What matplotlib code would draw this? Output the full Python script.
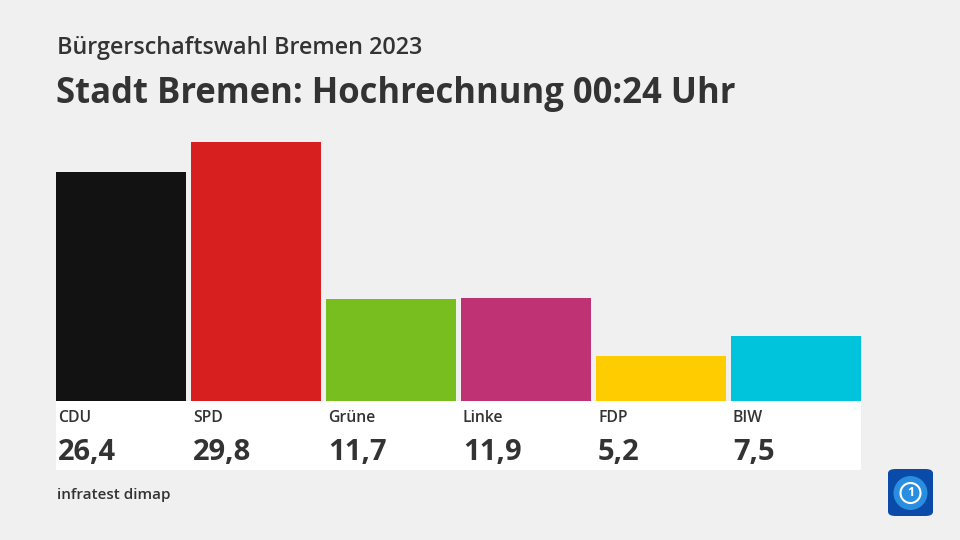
import matplotlib
matplotlib.use("Agg")
import matplotlib.pyplot as plt
import matplotlib.transforms as mtransforms
from matplotlib.patches import Rectangle, FancyBboxPatch, Ellipse

parties = ["CDU", "SPD", "Grüne", "Linke", "FDP", "BIW"]
values = [26.4, 29.8, 11.7, 11.9, 5.2, 7.5]
labels = ["26,4", "29,8", "11,7", "11,9", "5,2", "7,5"]
colors = ["#121212", "#d71f1f", "#78be1e", "#bf3273", "#ffcc00", "#00c3dc"]

plt.rcParams["font.family"] = ["Open Sans", "DejaVu Sans"]
bg = "#f0f0f0"
txt = "#333333"

W, H = 960, 540
fig = plt.figure(figsize=(9.6, 5.4), dpi=100, facecolor=bg)

# bar area in pixel coordinates
left, right, base, top = 56, 861, 401, 142
ax = fig.add_axes([left / W, (H - base) / H, (right - left) / W, (base - top) / H])
ax.set_facecolor("none")
half = 65 / 135
ax.bar(range(len(values)), values, width=130 / 135, color=colors)
ax.set_xlim(-half, len(values) - 1 + half)
ax.set_ylim(0, max(values))
ax.axis("off")

# white label panel
fig.patches.append(Rectangle((left / W, (H - 470) / H), (right - left) / W, 69 / H,
                             transform=fig.transFigure, facecolor="white",
                             edgecolor="none", zorder=-1))

trans = mtransforms.blended_transform_factory(ax.transData, fig.transFigure)
for i, (p, lab) in enumerate(zip(parties, labels)):
    x0 = i - half + 2 / 135
    ax.text(x0, (H - 418) / H, p, transform=trans, fontsize=11.3, fontweight="semibold",
            color=txt, va="center", ha="left", clip_on=False)
    ax.text(x0, (H - 453) / H, lab, transform=trans, fontsize=21, fontweight="bold",
            color=txt, va="center", ha="left", clip_on=False)

fig.text(57 / W, (H - 48) / H, "Bürgerschaftswahl Bremen 2023", fontsize=16.8,
         fontweight="semibold", color=txt, va="center", ha="left")
fig.text(56 / W, (H - 94) / H, "Stadt Bremen: Hochrechnung 00:24 Uhr", fontsize=24.9,
         fontweight="bold", color=txt, va="center", ha="left")
fig.text(57 / W, (H - 495) / H, "infratest dimap", fontsize=11, fontweight="semibold",
         color=txt, va="center", ha="left")

# logo
fig.patches.append(FancyBboxPatch((888 / W, (H - 516) / H), 45 / W, 47 / H,
                                  boxstyle="round,pad=0,rounding_size=0.008",
                                  transform=fig.transFigure, facecolor="#0a4aa8",
                                  edgecolor="none"))
fig.patches.append(Ellipse((910.5 / W, (H - 493) / H), 34 / W, 34 / H,
                           transform=fig.transFigure, facecolor="#2a8ee0",
                           edgecolor="none"))
fig.patches.append(Ellipse((910.5 / W, (H - 493) / H), 20 / W, 20 / H,
                           transform=fig.transFigure, facecolor="none",
                           edgecolor="white", linewidth=1.5))
fig.text(910.5 / W, (H - 493) / H, "1", fontsize=9, fontweight="bold", color="white",
         ha="center", va="center")

fig.savefig("out.png", dpi=100, facecolor=bg)
